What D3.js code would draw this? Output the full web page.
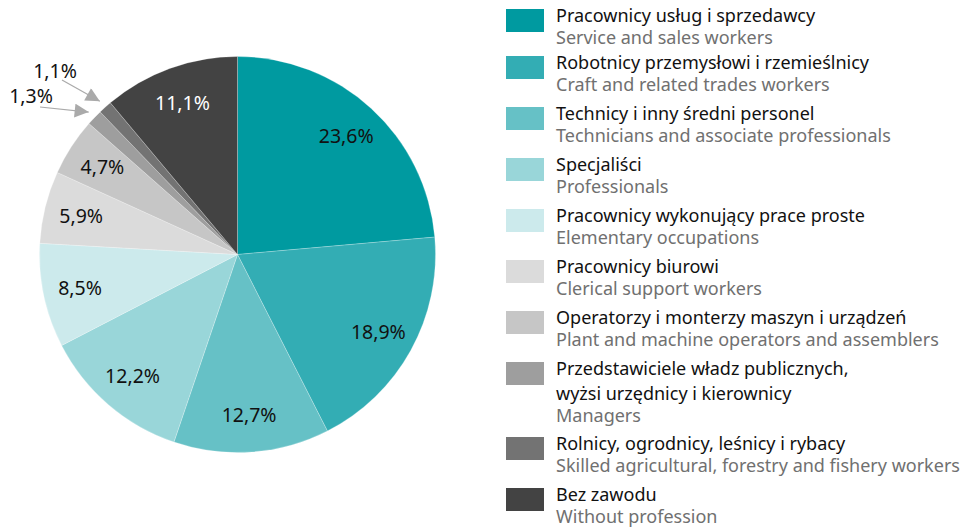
<!DOCTYPE html>
<html><head><meta charset="utf-8">
<script src="https://cdn.jsdelivr.net/npm/d3@7"></script>
<style>body{margin:0;background:#fff;} svg{display:block;}</style>
</head><body>
<svg id="c" width="965" height="529"></svg>
<script>
const labelsPL = [
  ["Pracownicy usług i sprzedawcy"],
  ["Robotnicy przemysłowi i rzemieślnicy"],
  ["Technicy i inny średni personel"],
  ["Specjaliści"],
  ["Pracownicy wykonujący prace proste"],
  ["Pracownicy biurowi"],
  ["Operatorzy i monterzy maszyn i urządzeń"],
  ["Przedstawiciele władz publicznych,", "wyżsi urzędnicy i kierownicy"],
  ["Rolnicy, ogrodnicy, leśnicy i rybacy"],
  ["Bez zawodu"]
];
const labelsEN = [
  "Service and sales workers",
  "Craft and related trades workers",
  "Technicians and associate professionals",
  "Professionals",
  "Elementary occupations",
  "Clerical support workers",
  "Plant and machine operators and assemblers",
  "Managers",
  "Skilled agricultural, forestry and fishery workers",
  "Without profession"
];
const values = [23.6, 18.9, 12.7, 12.2, 8.5, 5.9, 4.7, 1.3, 1.1, 11.1];
const colors = ["#009aa0", "#33adb4", "#66c1c6", "#99d6d9", "#cceaec", "#dbdbdb", "#c6c6c6", "#9e9e9e", "#737373", "#434343"];
const textColors = ["#111", "#111", "#111", "#111", "#111", "#111", "#111", "#111", "#111", "#fff"];

const svg = d3.select("#c");
const font = "'Noto Sans', 'Open Sans', sans-serif";
const cx = 237.5, cy = 254.5, R = 198;
const fmt = v => d3.format(".1f")(v).replace(".", ",") + "%";

const pie = d3.pie().sort(null).value(d => d)(values);
const arc = d3.arc().innerRadius(0).outerRadius(R);
const labelArc = d3.arc().innerRadius(161).outerRadius(161);
const tipArc = d3.arc().innerRadius(206).outerRadius(206);

const g = svg.append("g").attr("transform", `translate(${cx},${cy})`);
g.selectAll("path.s").data(pie).join("path").attr("class", "s")
  .attr("d", arc).attr("fill", (d, i) => colors[i])
  .attr("stroke", "#fff").attr("stroke-width", 0.4).attr("stroke-opacity", 0.6);

const small = pie.map((d, i) => ({d, i})).filter(o => o.d.data < 2);
g.selectAll("text.l").data(pie.filter(d => d.data >= 2)).join("text").attr("class", "l")
  .attr("transform", d => `translate(${labelArc.centroid(d)})`)
  .attr("text-anchor", "middle").attr("dy", "0.35em")
  .attr("font-family", font).attr("font-size", 19.5)
  .attr("fill", d => textColors[d.index])
  .text(d => fmt(d.data));

const defs = svg.append("defs");
defs.append("marker").attr("id", "ah").attr("viewBox", "0 0 10 10").attr("refX", 10).attr("refY", 5)
  .attr("markerWidth", 16).attr("markerHeight", 14).attr("markerUnits", "userSpaceOnUse").attr("orient", "auto")
  .append("path").attr("d", "M0,0L10,5L0,10Z").attr("fill", "#aaaaaa");

const annPos = {7: {tx: 31, ty: 103, lx: 40, ly: 107}, 8: {tx: 55, ty: 78, lx: 62, ly: 80}};
small.forEach(o => {
  const p = annPos[o.i];
  const [tx, ty] = tipArc.centroid(o.d);
  svg.append("line").attr("x1", p.lx).attr("y1", p.ly).attr("x2", cx + tx).attr("y2", cy + ty)
    .attr("stroke", "#aaaaaa").attr("stroke-width", 1.2).attr("marker-end", "url(#ah)");
  svg.append("text").attr("x", p.tx).attr("y", p.ty).attr("text-anchor", "middle")
    .attr("font-family", font).attr("font-size", 19.5).attr("fill", "#111").text(fmt(o.d.data));
});

const leg = svg.append("g");
let y = 9;
labelsPL.forEach((pl, i) => {
  const lines = pl.length + 1;
  leg.append("rect").attr("x", 506).attr("y", y).attr("width", 38).attr("height", 23).attr("fill", colors[i]);
  pl.forEach((t, k) => {
    leg.append("text").attr("x", 556).attr("y", y + 13 + k * 25)
      .attr("font-family", font).attr("font-size", 18).attr("fill", "#111").text(t);
  });
  leg.append("text").attr("x", 556).attr("y", y + 13 + pl.length * 25 - 3)
    .attr("font-family", font).attr("font-size", 18).attr("fill", "#707070").text(labelsEN[i]);
  y += (i === 0 ? 47 : 51) + (lines - 2) * 24;
});
</script>
</body></html>
